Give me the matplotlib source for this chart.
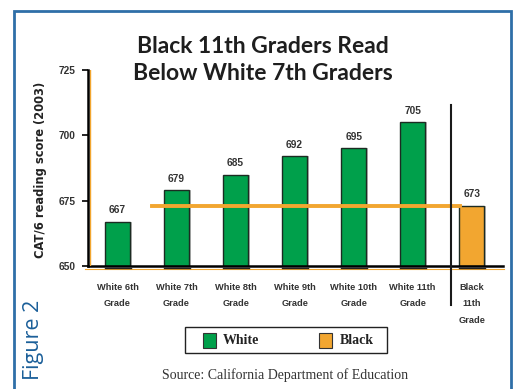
import matplotlib
matplotlib.use("Agg")
import matplotlib.pyplot as plt
from matplotlib.patches import Rectangle

categories = ["White 6th\nGrade", "White 7th\nGrade", "White 8th\nGrade", "White 9th\nGrade",
              "White 10th\nGrade", "White 11th\nGrade", "Black\n11th\nGrade"]
values = [667, 679, 685, 692, 695, 705, 673]
groups = ["White", "White", "White", "White", "White", "White", "Black"]
yticks = [650, 675, 700, 725]
black_level = 673
legend_labels = ["White", "Black"]

GREEN = "#00A04B"
ORANGE = "#F2A630"
EDGE = "#1c2b22"
BLUE = "#2f6fa8"
group_colors = {"White": GREEN, "Black": ORANGE}

W, H = 515, 389
fig = plt.figure(figsize=(W / 100, H / 100), dpi=100)

def fx(px):
    return px / W

def fy(py):
    return 1 - py / H

# blue frame
fig.patches.append(Rectangle((fx(14), fy(395)), fx(511) - fx(14), fy(11) - fy(395),
                             transform=fig.transFigure, fill=False, edgecolor=BLUE, lw=2))

ax = fig.add_axes([fx(88), fy(266), fx(503) - fx(88), fy(70) - fy(266)])
xs = list(range(len(values)))
colors = [group_colors[g] for g in groups]
# shadows
ax.bar([x + 0.04 for x in xs], [v - 650 for v in values], bottom=650, width=0.42,
       color="#bdbdbd", zorder=1)
ax.bar(xs, [v - 650 for v in values], bottom=650, width=0.42, color=colors,
       edgecolor=EDGE, linewidth=1.0, zorder=2)
for x in xs:
    ax.plot([x - 0.22, x + 0.22], [649.2, 649.2], color="#222222", lw=1, clip_on=False, zorder=3)
for x, v in zip(xs, values):
    ax.text(x, v + 2.5, str(v), ha="center", va="bottom", fontsize=7.3, fontweight="bold",
            color="#333333", family="Liberation Sans")

ax.set_xlim(-0.5, 6.53)
ax.set_ylim(650, 725)
ax.set_yticks(yticks)
ax.set_yticklabels([str(t) for t in yticks], fontsize=7.3, fontweight="bold",
                   family="Liberation Sans", color="#333333")
ax.set_xticks(xs)
ax.set_xticklabels(categories, fontsize=6.7, fontweight="bold", family="Liberation Sans",
                   color="#333333", linespacing=2.1)
ax.tick_params(axis="x", length=0, pad=12)
ax.tick_params(axis="y", length=4, width=1.2, direction="out", pad=5)
for s in ["top", "right"]:
    ax.spines[s].set_visible(False)
ax.spines["left"].set_linewidth(1.8)
ax.spines["bottom"].set_linewidth(1.8)
ax.spines["left"].set_zorder(5)

# orange accent lines along spines
ax.plot([-0.47, -0.47], [650, 725], color=ORANGE, lw=1.0, zorder=4)
ax.plot([-0.55, 6.55], [649.0, 649.0], color=ORANGE, lw=0.8, clip_on=False, zorder=1)

# orange reference line at Black 11th grade level
ax.plot([0.58, 5.81], [black_level, black_level], color=ORANGE, lw=2.8, zorder=4)
# vertical divider
ax.plot([5.65, 5.65], [711.5, 635.0], color="#1a1a1a", lw=1.5, clip_on=False, zorder=5)

ax.set_ylabel("CAT/6 reading score (2003)", fontsize=8.3, fontweight="bold",
              family="DejaVu Sans", color="#222222")
ax.yaxis.set_label_coords((47 - 88) / (503 - 88), 0.49)

fig.text(fx(263), fy(60), "Black 11th Graders Read\nBelow White 7th Graders", ha="center",
         va="center", fontsize=16.5, fontweight="bold", family="Lato", color="#1e1e1e",
         linespacing=1.4)

# legend (drawn manually to match box geometry)
fig.patches.append(Rectangle((fx(185), fy(353)), fx(387) - fx(185), fy(327) - fy(353),
                             transform=fig.transFigure, fill=False, edgecolor="#222222", lw=1.0))
for (sq_x, txt_x), lab in zip([(203, 223), (319, 340)], legend_labels):
    fig.patches.append(Rectangle((fx(sq_x), fy(348)), fx(sq_x + 13) - fx(sq_x), fy(333) - fy(348),
                                 transform=fig.transFigure, facecolor=group_colors[lab],
                                 edgecolor="#333333", lw=0.8))
    fig.text(fx(txt_x), fy(341), lab, ha="left", va="center", fontsize=10, fontweight="bold",
             family="Liberation Serif", color="#222222")

fig.text(fx(285), fy(375), "Source: California Department of Education", ha="center",
         va="center", fontsize=10, family="Liberation Serif", color="#333333")

fig.text(fx(33), fy(340), "Figure 2", rotation=90, ha="center", va="center", fontsize=15.5,
         family="Open Sans", color="#1b5f99")

fig.savefig("out.png", dpi=100)
